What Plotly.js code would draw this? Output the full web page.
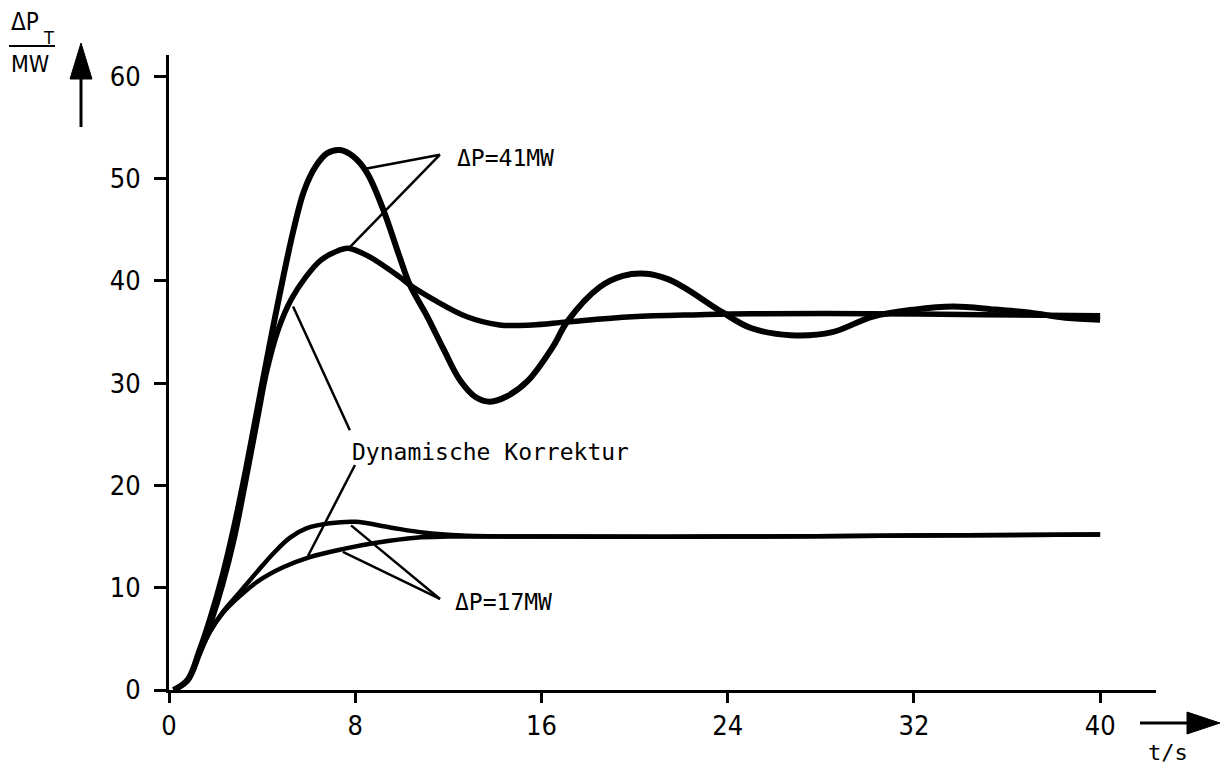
<!DOCTYPE html>
<html>
<head>
<meta charset="utf-8">
<script src="https://cdn.plot.ly/plotly-3.0.1.min.js"></script>
<style>html,body{margin:0;padding:0;background:#fff;}#chart{width:1222px;height:767px;}</style>
</head>
<body>
<div id="chart"></div>
<script>
// ---- data ----
// large step, without correction (oscillating)
const tOsc = [0.2, 0.8, 1.3, 1.8, 2.3, 2.8, 3.3, 3.8, 4.3, 4.8, 5.35, 5.8, 6.3, 6.8, 7.35, 7.9, 8.5, 9.2, 9.9, 10.35, 11.1, 11.8, 12.5, 13.2, 13.8, 14.5, 15.4, 16.5, 17.1, 18.5, 19.5, 20.5, 21.4, 22.1, 23.8, 25, 26.7, 28.5, 30.2, 32, 33.7, 35.5, 37, 38.5, 40];
const vOsc = [0, 1, 3.8, 7.2, 11.2, 16, 21.5, 27.5, 33.5, 39.2, 45, 48.8, 51.2, 52.5, 52.8, 52.2, 50.6, 47, 42.4, 39.6, 36.5, 33.3, 30.3, 28.6, 28.2, 28.7, 30.2, 33.6, 36, 39.4, 40.5, 40.7, 40.2, 39.4, 36.9, 35.4, 34.7, 35.0, 36.5, 37.2, 37.5, 37.2, 36.9, 36.4, 36.2];
// large step, dynamic correction
const tCor = [0.2, 0.8, 1.3, 1.8, 2.3, 2.8, 3.3, 3.8, 4.2, 4.7, 5.25, 5.85, 6.5, 7.3, 7.7, 8.5, 9.9, 10.35, 11.35, 12.8, 14.2, 15.6, 17.1, 19.9, 22.8, 25, 30, 35, 40];
const vCor = [0, 0.9, 3.5, 6.6, 10.3, 14.8, 20.5, 26.5, 31.2, 35.3, 38.2, 40.3, 42.0, 43.0, 43.2, 42.5, 40.4, 39.6, 38.2, 36.5, 35.7, 35.7, 36.0, 36.5, 36.7, 36.8, 36.8, 36.7, 36.6];
// small step, without correction
const tS1 = [0.2, 0.8, 1.3, 1.76, 2.3, 3.05, 3.8, 4.5, 5.2, 5.9, 6.9, 8.0, 9.5, 10.9, 12.6, 16, 24, 32, 40];
const vS1 = [0, 1, 3.5, 5.7, 7.6, 9.6, 11.6, 13.4, 14.9, 15.8, 16.3, 16.45, 15.9, 15.4, 15.1, 15.0, 15.0, 15.1, 15.2];
// small step, dynamic correction
const tS2 = [0.2, 0.8, 1.3, 1.76, 2.3, 3.05, 3.8, 4.9, 6.05, 7.5, 8.9, 10.6, 12, 16, 24, 32, 40];
const vS2 = [0, 1, 3.5, 5.7, 7.5, 9.2, 10.6, 12.0, 13.0, 13.8, 14.4, 14.9, 15.0, 15.0, 15.0, 15.1, 15.2];

const xTicks = [0, 8, 16, 24, 32, 40];
const yTicks = [0, 10, 20, 30, 40, 50, 60];

const label41 = "ΔP=41MW";
const label17 = "ΔP=17MW";
const labelDyn = "Dynamische Korrektur";
const xUnit = "t/s";
const yNum = "ΔP";
const ySub = "T";
const yDen = "MW";

// ---- layout helpers ----
const W = 1222, H = 767;
const L = 169, R = 1156, T = 55, B = 690;
const px = x => (x - L) / (R - L);
const py = y => (B - y) / (B - T);
const sansFam = "Liberation Sans Narrow, DejaVu Sans Condensed, DejaVu Sans, sans-serif";
const tickFont = {family: sansFam, size: 27, color: "#000"};
const monoFont = {family: "DejaVu Sans Mono, Liberation Mono, monospace", size: 23, color: "#000"};

function curve(t, v, w) {
  return {x: t, y: v, type: "scatter", mode: "lines",
    line: {color: "#000", width: w, shape: "spline", smoothing: 1},
    hoverinfo: "skip", showlegend: false};
}

const traces = [
  curve(tS2, vS2, 4.5),
  curve(tS1, vS1, 4.5),
  curve(tCor, vCor, 5.5),
  curve(tOsc, vOsc, 6)
];

function seg(x0, y0, x1, y1, w) {
  return {type: "line", xref: "x", yref: "y", x0: x0, y0: y0, x1: x1, y1: y1,
    line: {color: "#000", width: w || 2.5}};
}
function pseg(x0, y0, x1, y1, w) {
  return {type: "line", xref: "paper", yref: "paper", x0: px(x0), y0: py(y0), x1: px(x1), y1: py(y1),
    line: {color: "#000", width: w || 3}};
}
function tri(pts) {
  const d = pts.map((p, i) => (i ? "L" : "M") + px(p[0]) + "," + py(p[1])).join(" ") + " Z";
  return {type: "path", xref: "paper", yref: "paper", path: d, fillcolor: "#000", line: {color: "#000", width: 1}};
}

const shapes = [
  // leader lines ΔP=41MW
  seg(11.64, 52.35, 8.5, 51.0),
  seg(11.64, 52.35, 7.77, 43.3),
  // leader lines Dynamische Korrektur
  seg(7.77, 25.4, 5.33, 37.5),
  seg(7.99, 22.0, 5.97, 13.1),
  // leader lines ΔP=17MW
  seg(11.64, 8.9, 7.82, 16.1),
  seg(11.64, 8.9, 7.47, 13.5),
  // y-axis label fraction bar and arrow
  pseg(9, 46, 55, 46, 2),
  pseg(81, 127, 81, 76, 3),
  tri([[81, 43], [70, 79], [92, 79]]),
  // x-axis arrow
  pseg(1140, 723, 1190, 723, 3),
  tri([[1220, 723], [1187, 712], [1187, 734]])
];

const annotations = [
  {x: 12.29, y: 52.05, xref: "x", yref: "y", text: label41, showarrow: false, xanchor: "left", yanchor: "middle", font: monoFont},
  {x: 7.77, y: 23.3, xref: "x", yref: "y", text: labelDyn, showarrow: false, xanchor: "left", yanchor: "middle", font: monoFont},
  {x: 12.2, y: 8.6, xref: "x", yref: "y", text: label17, showarrow: false, xanchor: "left", yanchor: "middle", font: monoFont},
  {x: px(1168), y: py(752), xref: "paper", yref: "paper", text: xUnit, showarrow: false, xanchor: "center", yanchor: "middle", font: {family: monoFont.family, size: 22, color: "#000"}},
  {x: px(9), y: py(22), xref: "paper", yref: "paper", text: yNum, showarrow: false, xanchor: "left", yanchor: "middle", font: {family: sansFam, size: 24, color: "#000"}},
  {x: px(48), y: py(38), xref: "paper", yref: "paper", text: ySub, showarrow: false, xanchor: "center", yanchor: "middle", font: {family: sansFam, size: 18, color: "#000"}},
  {x: px(9), y: py(64), xref: "paper", yref: "paper", text: yDen, showarrow: false, xanchor: "left", yanchor: "middle", font: {family: sansFam, size: 23, color: "#000"}}
];

const layout = {
  width: W, height: H,
  margin: {l: L, r: W - R, t: T, b: H - B, pad: 0},
  paper_bgcolor: "#fff", plot_bgcolor: "#fff",
  showlegend: false,
  xaxis: {range: [0, 42.4], tickvals: xTicks, ticktext: xTicks.map(String),
    showgrid: false, zeroline: false, showline: true, linecolor: "#000", linewidth: 3,
    ticks: "outside", ticklen: 10, tickwidth: 3, tickcolor: "#000", tickfont: tickFont, fixedrange: true},
  yaxis: {range: [0, 62.1], tickvals: yTicks, ticktext: yTicks.map(String),
    showgrid: false, zeroline: false, showline: true, linecolor: "#000", linewidth: 3,
    ticks: "outside", ticklen: 12, tickwidth: 3, tickcolor: "#000", tickfont: tickFont,
    ticklabelstandoff: 8, fixedrange: true},
  shapes: shapes,
  annotations: annotations
};

Plotly.newPlot("chart", traces, layout, {displayModeBar: false, staticPlot: true});
</script>
</body>
</html>
